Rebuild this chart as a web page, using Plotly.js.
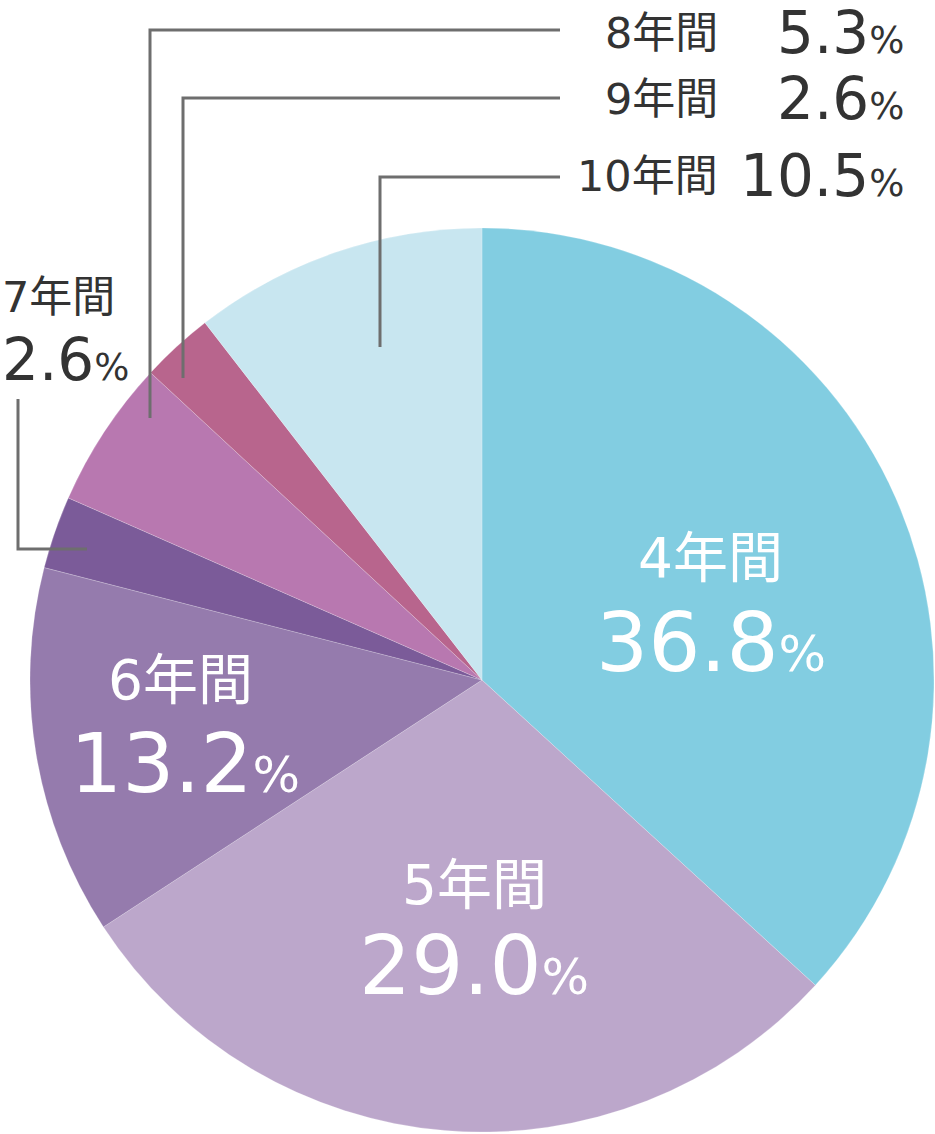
<!DOCTYPE html>
<html>
<head>
<meta charset="utf-8">
<script src="https://cdn.plot.ly/plotly-3.0.1.min.js"></script>
<style>
  html, body { margin: 0; padding: 0; background: #fff; }
  #plot { width: 935px; height: 1134px; }
</style>
</head>
<body>
<div id="plot"></div>
<script>
const labels = ['4年間', '5年間', '6年間', '7年間', '8年間', '9年間', '10年間'];
const values = [36.8, 29.0, 13.2, 2.6, 5.3, 2.6, 10.5];
const colors = ['#82cde1', '#bca7cb', '#957bad', '#7b5b99', '#b878b0', '#b8658d', '#c8e6f0'];

const W = 935, H = 1134;
const px = x => x / W;
const py = y => 1 - y / H;
const FONT = '"DejaVu Sans", "Noto Sans CJK JP", sans-serif';

// inside labels (white) - [nameX, nameY, valueX, valueY] in pixels
const insidePos = {
  '4年間': [710, 558, 711, 642],
  '5年間': [474, 885, 474, 965],
  '6年間': [180, 680, 185, 763],
};

const trace = {
  type: 'pie',
  labels: labels,
  values: values,
  sort: false,
  direction: 'clockwise',
  rotation: 0,
  textinfo: 'none',
  hoverinfo: 'label+percent',
  marker: { colors: colors, line: { color: 'rgba(255,255,255,0.4)', width: 0.5 } },
  domain: { x: [px(30), px(934)], y: [py(1132), py(228)] },
};

const annotations = [];
const pct = (v, size) => v.toFixed(1) + '<span style="font-size:' + size + 'px">%</span>';

labels.forEach((lab, i) => {
  const p = insidePos[lab];
  if (!p) return;
  annotations.push({
    x: px(p[0]), y: py(p[1]), xref: 'paper', yref: 'paper',
    text: lab, showarrow: false, xanchor: 'center', yanchor: 'middle',
    font: { family: FONT, size: 55, color: '#ffffff' },
  });
  annotations.push({
    x: px(p[2]), y: py(p[3]), xref: 'paper', yref: 'paper',
    text: pct(values[i], 50), showarrow: false, xanchor: 'center', yanchor: 'middle',
    font: { family: FONT, size: 82, color: '#ffffff' },
  });
});

// outside labels at top right: [label, rowY]
const rightRows = [['8年間', 33], ['9年間', 99], ['10年間', 176]];
rightRows.forEach(r => {
  const i = labels.indexOf(r[0]);
  annotations.push({
    x: px(720), y: py(r[1]), xref: 'paper', yref: 'paper',
    text: r[0], showarrow: false, xanchor: 'right', yanchor: 'middle',
    font: { family: FONT, size: 43, color: '#333333' },
  });
  annotations.push({
    x: px(906), y: py(r[1]), xref: 'paper', yref: 'paper',
    text: pct(values[i], 37), showarrow: false, xanchor: 'right', yanchor: 'middle',
    font: { family: FONT, size: 58, color: '#333333' },
  });
});

// 7年間 label on the left
const i7 = labels.indexOf('7年間');
annotations.push({
  x: px(0), y: py(297), xref: 'paper', yref: 'paper',
  text: labels[i7], showarrow: false, xanchor: 'left', yanchor: 'middle',
  font: { family: FONT, size: 43, color: '#333333' },
});
annotations.push({
  x: px(0), y: py(360), xref: 'paper', yref: 'paper',
  text: pct(values[i7], 37), showarrow: false, xanchor: 'left', yanchor: 'middle',
  font: { family: FONT, size: 58, color: '#333333' },
});

// leader lines (pixel points)
const leaders = [
  [[560, 30], [150, 30], [150, 418]],
  [[560, 98], [183, 98], [183, 378]],
  [[560, 177], [380, 177], [380, 347]],
  [[18, 399], [18, 549], [87, 549]],
];
const shapes = leaders.map(pts => ({
  type: 'path', xref: 'paper', yref: 'paper',
  path: pts.map((p, k) => (k ? 'L' : 'M') + px(p[0]) + ',' + py(p[1])).join(' '),
  line: { color: '#6e6e6e', width: 3 },
}));

const layout = {
  width: W,
  height: H,
  showlegend: false,
  margin: { l: 0, r: 0, t: 0, b: 0 },
  paper_bgcolor: '#ffffff',
  annotations: annotations,
  shapes: shapes,
};

Plotly.newPlot('plot', [trace], layout, { displayModeBar: false, staticPlot: true });
</script>
</body>
</html>
